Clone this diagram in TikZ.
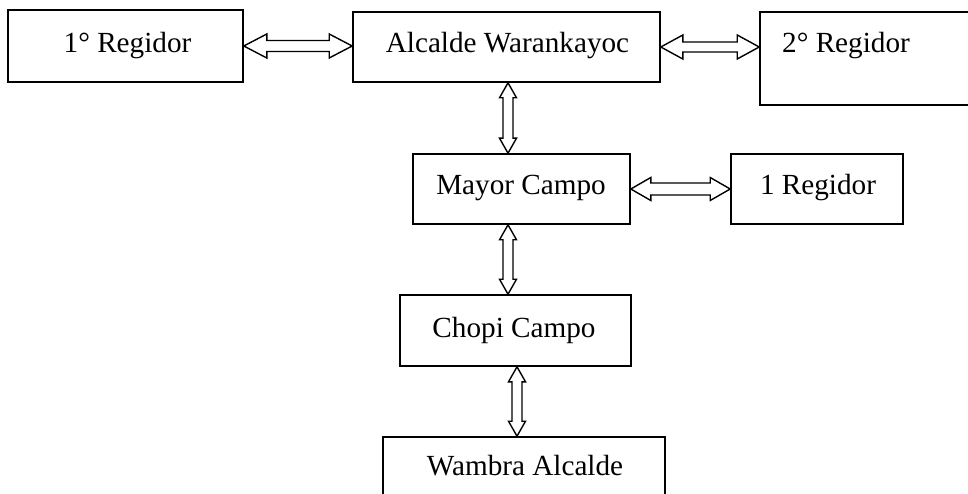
\documentclass[tikz,border=0pt]{standalone}
\usepackage{fontspec}
\setmainfont{Liberation Serif}
\usetikzlibrary{calc}
\tikzset{
  box/.style={draw, line width=1.6pt, inner sep=0pt, rectangle},
  lbl/.style={anchor=base, inner sep=0pt, font=\fontsize{29.2}{34}\selectfont},
  arr/.style={draw, line width=1.4pt, fill=white, line join=miter}
}
% horizontal hollow double arrow: from point #1 to point #2 (same y as #1)
\newcommand{\hdarrow}[5]{%
  \draw[arr] let \p1=#1, \p2=#2 in
    (\x1,\y1) -- (\x1+#3,\y1+#4) -- (\x1+#3,\y1+#5) -- (\x2-#3,\y1+#5)
    -- (\x2-#3,\y1+#4) -- (\x2,\y1) -- (\x2-#3,\y1-#4) -- (\x2-#3,\y1-#5)
    -- (\x1+#3,\y1-#5) -- (\x1+#3,\y1-#4) -- cycle;}
% vertical hollow double arrow: from point #1 (top) to point #2 (bottom, same x as #1)
\newcommand{\vdarrow}[5]{%
  \draw[arr] let \p1=#1, \p2=#2 in
    (\x1,\y1) -- (\x1+#4,\y1-#3) -- (\x1+#5,\y1-#3) -- (\x1+#5,\y2+#3)
    -- (\x1+#4,\y2+#3) -- (\x1,\y2) -- (\x1-#4,\y2+#3) -- (\x1-#5,\y2+#3)
    -- (\x1-#5,\y1-#3) -- (\x1-#4,\y1-#3) -- cycle;}
\begin{document}
\begin{tikzpicture}[x=1pt, y=-1pt]
\clip (0,0) rectangle (968,494);
\fill[white] (0,0) rectangle (968,494);
% boxes
\node[box, minimum width=235pt, minimum height=72pt] (r1) at (125.5,46) {};
\node[box, minimum width=307pt, minimum height=70pt] (A)  at (506.5,47) {};
\node[box, minimum width=220pt, minimum height=93pt] (r2) at (870,58.5) {};
\node[box, minimum width=217pt, minimum height=70pt] (M)  at (521.5,189) {};
\node[box, minimum width=172pt, minimum height=70pt] (r3) at (817,189) {};
\node[box, minimum width=231pt, minimum height=71pt] (C)  at (515.5,330.5) {};
\node[box, minimum width=282pt, minimum height=73pt] (W)  at (524,473.5) {};
% labels
\node[lbl] (t1) at (127.5,53) {1° Regidor};
\node[lbl] (tA) at (507.5,53) {Alcalde Warankayoc};
\node[lbl] (t2) at (846,53) {2° Regidor};
\node[lbl] (tM) at (521,195) {Mayor Campo};
\node[lbl] (t3) at (818,195) {1 Regidor};
\node[lbl] (tC) at (514,337) {Chopi Campo};
\node[lbl] (tW) at (525,475) {Wambra Alcalde};
% horizontal connectors
\hdarrow{(r1.east)}{(A.west)}{23pt}{12pt}{5.5pt}
\hdarrow{(A.east)}{(r2.west |- A.east)}{22pt}{12pt}{5pt}
\hdarrow{(M.east)}{(r3.west)}{20pt}{11.5pt}{6pt}
% vertical connectors
\coordinate (a1) at ([xshift=1.5pt]A.south);
\vdarrow{(a1)}{(a1 |- M.north)}{15pt}{8.5pt}{5pt}
\coordinate (m1) at (a1 |- M.south);
\vdarrow{(m1)}{(m1 |- C.north)}{15pt}{8.5pt}{5pt}
\coordinate (c1) at ([xshift=1.5pt]C.south);
\vdarrow{(c1)}{(c1 |- W.north)}{15pt}{8.5pt}{5pt}
\end{tikzpicture}
\end{document}
